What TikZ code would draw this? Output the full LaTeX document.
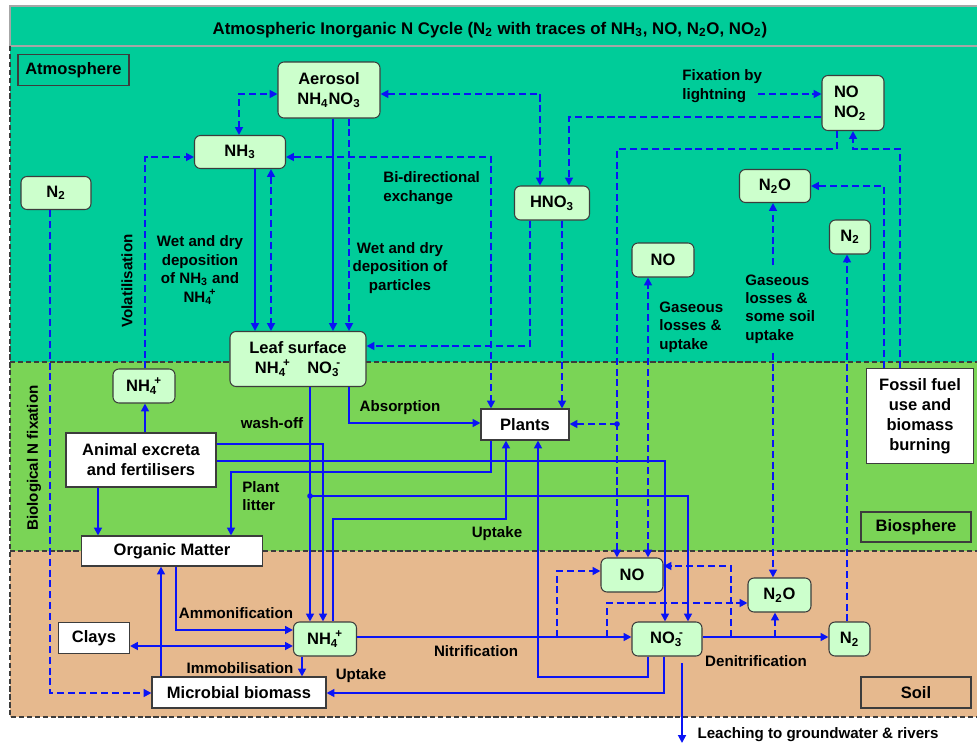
\documentclass[tikz,border=0pt]{standalone}
\usepackage{fontspec}
\setmainfont{Liberation Sans}
\usetikzlibrary{arrows.meta}
\definecolor{airColor}{RGB}{0,204,153}
\definecolor{bioColor}{RGB}{122,212,86}
\definecolor{soilColor}{RGB}{230,185,142}
\definecolor{gasColor}{RGB}{204,255,204}
\definecolor{flowColor}{RGB}{10,20,245}
\definecolor{edgeColor}{RGB}{60,60,60}
\newcommand{\unitpx}{0.02cm}
\newcommand{\nodeFont}{\fontsize{9.4}{11.3}\selectfont\bfseries}
\newcommand{\labelFont}{\fontsize{8.6}{10.5}\selectfont\bfseries}
\newcommand{\chemIon}[3]{#1\textsubscript{#2}\hspace{-0.18em}\textsuperscript{#3}}
\tikzstyle{canvas} = [x=\unitpx, y=-\unitpx, >={Triangle[length=4.5pt,width=4.5pt]}]
\tikzstyle{gasStyle} = [draw=edgeColor, fill=gasColor, rounded corners=.12cm, line width=.6pt, inner sep=0pt, font=\nodeFont, align=center]
\tikzstyle{plainStyle} = [draw=edgeColor, fill=white, line width=.6pt, inner sep=0pt, font=\nodeFont, align=center]
\tikzstyle{zoneStyle} = [draw=edgeColor, line width=.6pt, inner sep=0pt, font=\nodeFont]
\tikzstyle{zoneLine} = [color=edgeColor, line width=.6pt, dash pattern=on 3pt off 1.5pt]
\tikzstyle{titleLine} = [color=gray!70, line width=1pt]
\tikzstyle{flowLine} = [color=flowColor, line width=1.05pt, ->]
\tikzstyle{gasLine} = [flowLine, dash pattern=on 4pt off 2.2pt]
\tikzstyle{labelText} = [font=\labelFont, align=left, inner sep=0pt]
\newcommand{\gasBox}[5]{\node[gasStyle, minimum width=#3*\unitpx, minimum height=#4*\unitpx] (#1) at (#2) {#5};}
\newcommand{\plainBox}[5]{\node[plainStyle, minimum width=#3*\unitpx, minimum height=#4*\unitpx] (#1) at (#2) {#5};}

\begin{document}
\begin{tikzpicture}[canvas]
  \useasboundingbox (0,0) rectangle (977,744);
  % zones
  \fill[airColor] (10,6) rectangle (977,362);
  \fill[bioColor] (10,362) rectangle (977,551);
  \fill[soilColor] (10,551) rectangle (977,717);
  \draw[titleLine] (977,6) -- (10,6) -- (10,46) -- (977,46);
  \draw[zoneLine] (10,46) -- (10,717) -- (977,717);
  \draw[zoneLine] (10,362) -- (977,362);
  \draw[zoneLine] (10,551) -- (977,551);
  \node[font=\fontsize{9.6}{11.5}\selectfont\bfseries] (title) at (490,30) {Atmospheric Inorganic N Cycle (N\textsubscript{2} with traces of NH\textsubscript{3}, NO, N\textsubscript{2}O, NO\textsubscript{2})};
  \node[zoneStyle, minimum width=111*\unitpx, minimum height=31*\unitpx] (atmosphereTag) at (73.5,70) {Atmosphere};
  \node[zoneStyle, minimum width=110*\unitpx, minimum height=30*\unitpx] (biosphereTag) at (916,527) {Biosphere};
  \node[zoneStyle, minimum width=110*\unitpx, minimum height=31*\unitpx] (soilTag) at (916,692.5) {Soil};

  % atmosphere
  \gasBox{aerosol}{329,90}{102}{56}{Aerosol\\NH\textsubscript{4}NO\textsubscript{3}}
  \gasBox{nhthree}{240,152}{91}{33}{NH\textsubscript{3}}
  \gasBox{ntwoLeft}{56,193}{70}{33}{N\textsubscript{2}}
  \gasBox{hnothree}{552,203}{75}{34}{HNO\textsubscript{3}}
  \node[gasStyle, align=left, minimum width=62*\unitpx, minimum height=55*\unitpx, text width=38*\unitpx] (nox) at (853,103) {NO\\NO\textsubscript{2}};
  \gasBox{ntwooAtm}{775,186}{71}{33}{N\textsubscript{2}O}
  \gasBox{ntwoAtm}{850,237}{41}{34}{N\textsubscript{2}}
  \gasBox{noAtm}{663,260}{62}{34}{NO}
  \gasBox{leaf}{298,359}{136}{55}{Leaf surface\\\chemIon{NH}{4}{+}\quad \chemIon{NO}{3}{-}}

  % biosphere
  \gasBox{nhfourBio}{144,386}{62}{34}{\chemIon{NH}{4}{+}}
  \plainBox{excreta}{141,460}{150}{54}{Animal excreta\\and fertilisers}
  \plainBox{plants}{525,424.5}{88}{31}{Plants}
  \node[plainStyle, minimum width=107*\unitpx, minimum height=95*\unitpx, font=\fontsize{9.4}{11.4}\selectfont\bfseries] (fossil) at (920,416) {Fossil fuel\\use and\\biomass\\burning};

  % soil
  \plainBox{organic}{172,551}{181}{30}{Organic Matter}
  \plainBox{clays}{94,638}{71}{31}{Clays}
  \gasBox{nhfourSoil}{325,639}{63}{34}{\chemIon{NH}{4}{+}}
  \plainBox{microbial}{239,692.5}{174}{31}{Microbial biomass}
  \gasBox{noSoil}{632,575}{62}{34}{NO}
  \gasBox{ntwooSoil}{779.5,595}{63}{34}{N\textsubscript{2}O}
  \gasBox{nothree}{667,639}{70}{34}{\chemIon{NO}{3}{-}}
  \gasBox{ntwoSoil}{849.5,639}{41}{34}{N\textsubscript{2}}

  % labels
  \node[labelText] (lblFixation) at (682,86) [anchor=west] {Fixation by\\lightning};
  \node[labelText] (lblBidir) at (383,188) [anchor=west] {Bi-directional\\exchange};
  \node[labelText, align=center] (lblWetGas) at (200,270) {Wet and dry\\deposition\\of NH\textsubscript{3} and\\\chemIon{NH}{4}{+}};
  \node[labelText, align=center] (lblWetDust) at (400,268) {Wet and dry\\deposition of\\particles};
  \node[labelText, rotate=90] (lblVolat) at (127,281) {Volatilisation};
  \node[labelText, rotate=90] (lblBioFix) at (34,458) {Biological N fixation};
  \node[labelText] (lblGasOne) at (659,327) [anchor=west] {Gaseous\\losses \&\\uptake};
  \node[labelText, inner ysep=5pt] (lblGasTwo) at (745,309) [anchor=west] {Gaseous\\losses \&\\some soil\\uptake};
  \node[labelText] (lblAbsorb) at (400,408) {Absorption};
  \node[labelText] (lblWash) at (272,423) {wash-off};
  \node[labelText] (lblLitter) at (242,496) [anchor=west] {Plant\\litter};
  \node[labelText] (lblUptakeBio) at (497,534) {Uptake};
  \node[labelText] (lblAmmon) at (236,613) {Ammonification};
  \node[labelText] (lblImmob) at (240,668) {Immobilisation};
  \node[labelText] (lblUptakeSoil) at (361,676) {Uptake};
  \node[labelText] (lblNitrif) at (476,651) {Nitrification};
  \node[labelText] (lblDenit) at (756,661) {Denitrification};
  \node[labelText] (lblLeach) at (818,735) {Leaching to groundwater \& rivers};

  \coordinate (fixStart) at (758,94);
  \coordinate (plantsJoin) at (617,424);
  \coordinate (washJoin) at (310,496);
  \coordinate (leachStart) at (682,663);
  \coordinate (leachEnd) at (682,743);

  % gas exchange (dashed)
  \draw[gasLine, <->] (nhthree.north -| 239,0) |- (aerosol.west |- 0,94);
  \draw[gasLine, <->] (aerosol.east |- 0,94) -| (hnothree.north -| 540,0);
  \draw[gasLine] (nox.west |- 0,117) -| (hnothree.north -| 569,0);
  \draw[gasLine] (fixStart) -- (nox.west |- fixStart);
  \draw[gasLine] (nox.south -| 837,0) |- (617,149) -- (noSoil.north -| 617,0);
  \fill[flowColor] (plantsJoin) circle (1.6pt);
  \draw[gasLine] (plantsJoin) -- (plants.east |- plantsJoin);
  \draw[gasLine] (fossil.north -| 900,0) |- (853,149) -- (nox.south -| 853,0);
  \draw[gasLine] (fossil.north -| 884,0) |- (ntwooAtm.east);
  \draw[gasLine] (lblGasTwo.north -| 773,0) -- (ntwooAtm.south -| 773,0);
  \draw[gasLine] (lblGasTwo.south -| 773,0) -- (ntwooSoil.north -| 773,0);
  \draw[gasLine, <->] (noSoil.north -| 648,0) -- (noAtm.south -| 648,0);
  \draw[gasLine] (ntwoSoil.north -| 847,0) -- (ntwoAtm.south -| 847,0);
  \draw[gasLine] (ntwoLeft.south -| 50,0) |- (microbial.west |- 0,693);
  \draw[gasLine] (nhfourBio.north -| 145,0) |- (nhthree.west |- 0,157);
  \draw[gasLine, <->] (nhthree.south -| 271,0) -- (leaf.north -| 271,0);
  \draw[gasLine] (aerosol.south -| 349,0) -- (leaf.north -| 349,0);
  \draw[gasLine, <->] (nhthree.east |- 0,157) -| (plants.north -| 491,0);
  \draw[gasLine] (hnothree.south -| 530,0) |- (leaf.east |- 0,346);
  \draw[gasLine] (hnothree.south -| 562,0) -- (plants.north -| 562,0);
  \draw[gasLine] (557,637) |- (noSoil.west |- 0,571);
  \draw[gasLine] (607,637) |- (ntwooSoil.west |- 0,603);
  \draw[gasLine] (731,637) |- (noSoil.east |- 0,566);
  \draw[gasLine] (775,637) -- (ntwooSoil.south -| 775,0);

  % flows (solid)
  \draw[flowLine] (excreta.north -| 145,0) -- (nhfourBio.south -| 145,0);
  \draw[flowLine] (nhthree.south -| 255,0) -- (leaf.north -| 255,0);
  \draw[flowLine] (aerosol.south -| 333,0) -- (leaf.north -| 333,0);
  \draw[flowLine] (leaf.south -| 349,0) |- (plants.west |- 0,423);
  \draw[flowLine] (leaf.south -| 310,0) -- (nhfourSoil.north -| 310,0);
  \fill[flowColor] (washJoin) circle (1.6pt);
  \draw[flowLine] (washJoin) -| (nothree.north -| 688,0);
  \draw[flowLine] (excreta.east |- 0,444) -| (nhfourSoil.north -| 323,0);
  \draw[flowLine] (excreta.east |- 0,461) -| (nothree.north -| 665,0);
  \draw[flowLine] (excreta.south -| 98,0) -- (organic.north -| 98,0);
  \draw[flowLine] (plants.south -| 491,0) |- (231,472) -- (organic.north -| 231,0);
  \draw[flowLine] (nhfourSoil.north -| 333,0) |- (506,519) -- (plants.south -| 506,0);
  \draw[flowLine] (nothree.south -| 648,0) |- (538,677) -- (plants.south -| 538,0);
  \draw[flowLine] (nothree.south -| 664,0) |- (microbial.east |- 0,693);
  \draw[flowLine] (organic.south -| 176,0) |- (nhfourSoil.west |- 0,630);
  \draw[flowLine, <->] (clays.east |- 0,646) -- (nhfourSoil.west |- 0,646);
  \draw[flowLine] (microbial.north -| 161,0) -- (organic.south -| 161,0);
  \draw[flowLine] (nhfourSoil.south -| 302,0) -- (microbial.north -| 302,0);
  \draw[flowLine] (nhfourSoil.east |- 0,637) -- (nothree.west |- 0,637);
  \draw[flowLine] (nothree.east |- 0,637) -- (ntwoSoil.west |- 0,637);
  \draw[flowLine] (leachStart) -- (leachEnd);
\end{tikzpicture}
\end{document}
